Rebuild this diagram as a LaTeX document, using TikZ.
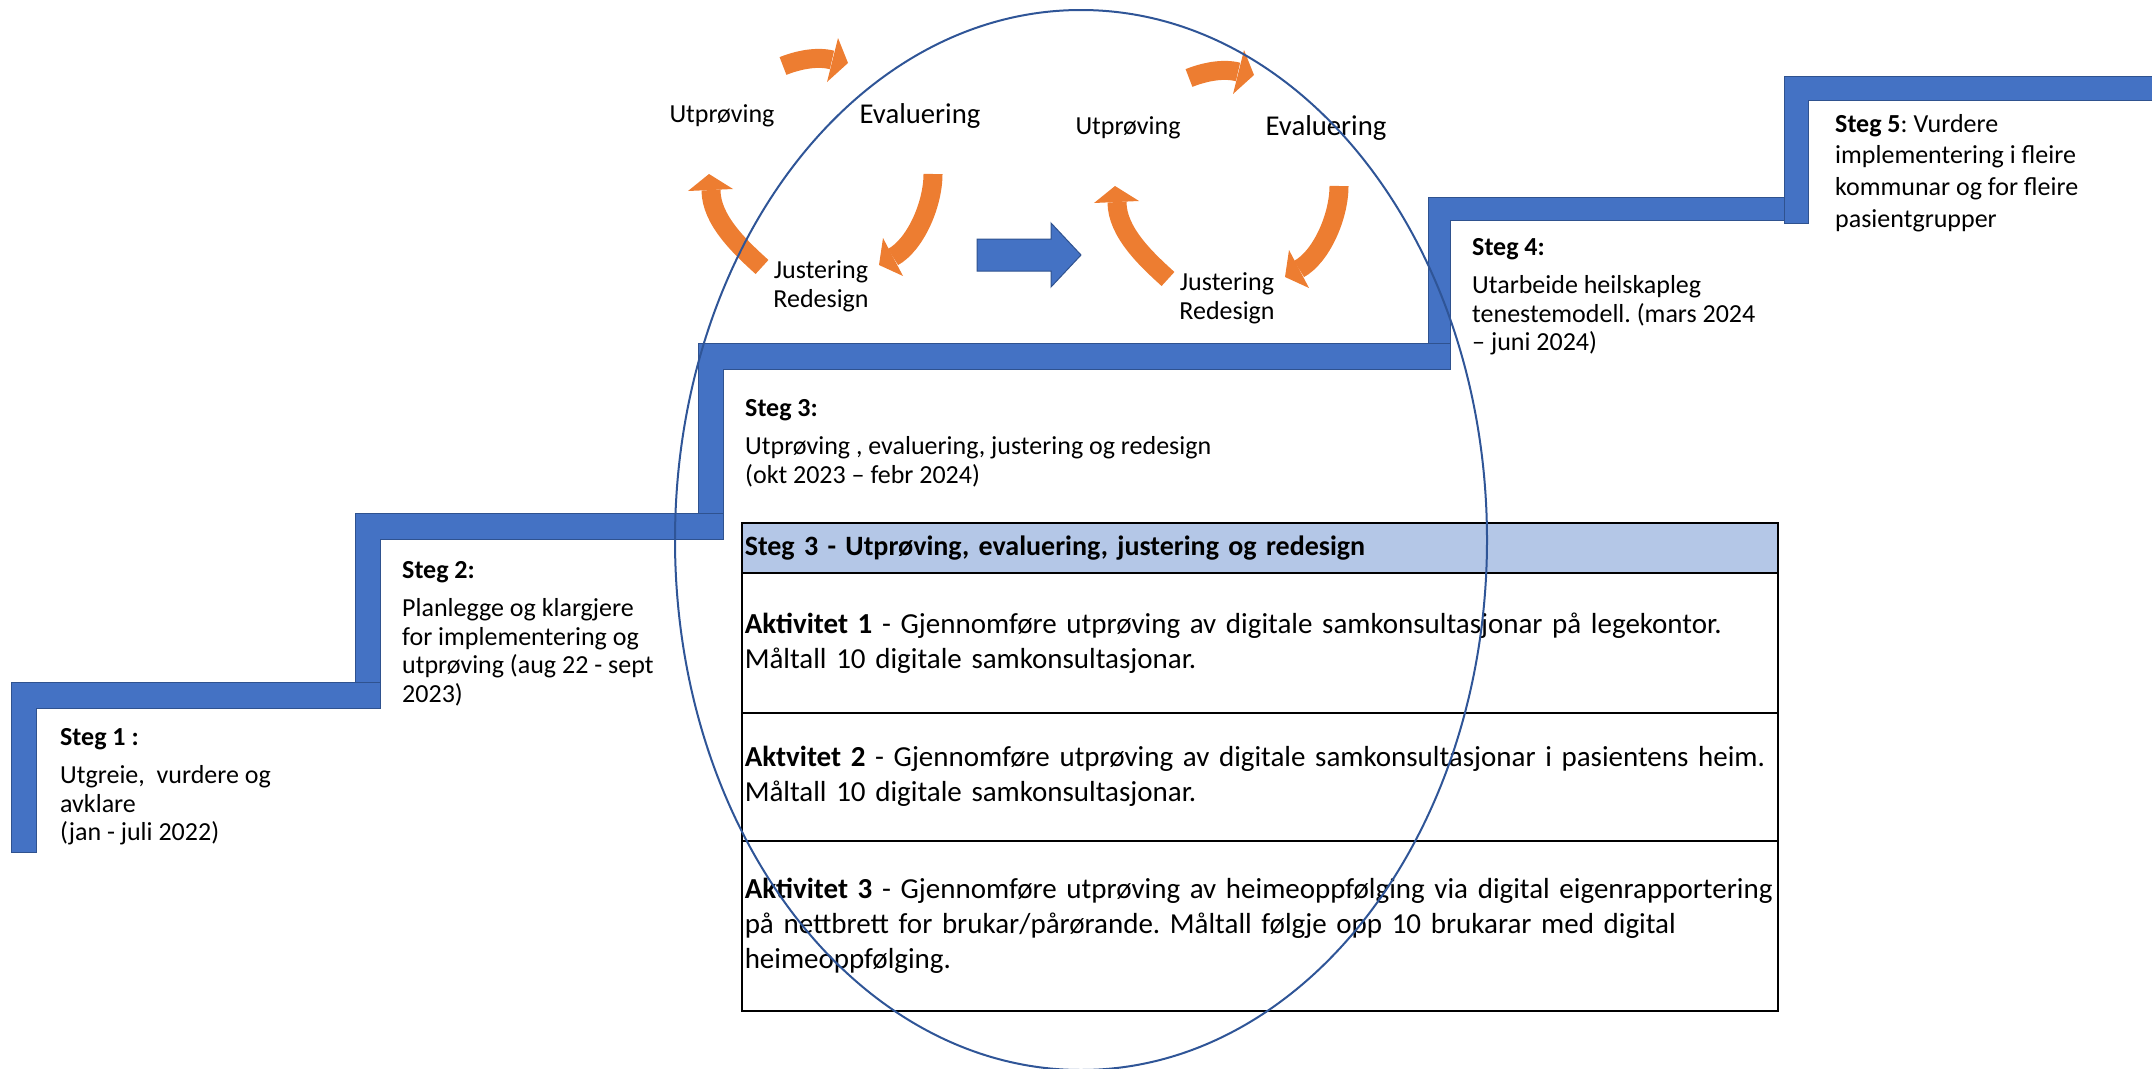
\documentclass[tikz,border=0pt]{standalone}
\usepackage{fontspec}
\setmainfont{Carlito}
\usetikzlibrary{shapes.geometric}
\definecolor{stairblue}{HTML}{4472C4}
\definecolor{stairline}{HTML}{2F528F}
\definecolor{arroworange}{HTML}{ED7D31}
\definecolor{loopblue}{HTML}{2F5597}
\definecolor{headfill}{HTML}{B4C7E7}
\frenchspacing
\tikzset{
  stair/.style={fill=stairblue,draw=stairline,line width=1pt},
  band/.style={draw=arroworange,line width=19pt,line cap=butt},
  arrowhead/.style={fill=arroworange},
  steptext/.style={anchor=base west,inner sep=0pt,font=\fontsize{26pt}{28.6pt}\selectfont},
  cyctext/.style={anchor=base,inner sep=0pt,font=\fontsize{26pt}{29pt}\selectfont},
  cell/.style={draw=black,line width=1.5pt,anchor=north west,inner xsep=3pt,inner ysep=0pt,
    text width=1030pt,align=left,font=\fontsize{29pt}{35pt}\selectfont},
  pdcacycle/.pic={
    \draw[band] (783,66) .. controls (798,60) and (817,56) .. (832,60);
    \fill[arrowhead] (838,38) -- (848,63) -- (827,82) -- cycle;
    \draw[band] (933,174) .. controls (933,205) and (915,245) .. (893,257);
    \fill[arrowhead] (883,238) -- (879,265) -- (903,276) -- cycle;
    \draw[band] (762,267) .. controls (740,247) and (711,220) .. (711,190);
    \fill[arrowhead] (688,191) -- (709,174) -- (733,189) -- cycle;
    \node[cyctext] (-u) at (722,122) {Utprøving};
    \node[cyctext,font=\fontsize{28.7pt}{32pt}\selectfont] (-e) at (920,123) {Evaluering};
    \node[cyctext] (-j) at (821,278) {Justering};
    \node[cyctext] (-r) at (821,307) {Redesign};
  }
}
\begin{document}
\begin{tikzpicture}[x=1pt,y=-1pt]
\useasboundingbox (0,0) rectangle (2152,1068);
\clip (0,0) rectangle (2152,1068);
% staircase
\draw[stair] (11,852) -- (11,682) -- (380,682) -- (380,708) -- (36,708) -- (36,852) -- cycle;
\draw[stair] (355,682) -- (355,513) -- (723,513) -- (723,539) -- (380,539) -- (380,682) -- cycle;
\draw[stair] (698,513) -- (698,343) -- (1450,343) -- (1450,369) -- (723,369) -- (723,513) -- cycle;
\draw[stair] (1428,343) -- (1428,197) -- (1784,197) -- (1784,220) -- (1450,220) -- (1450,343) -- cycle;
\draw[stair] (1784,223) -- (1784,76) -- (2160,76) -- (2160,100) -- (1808,100) -- (1808,223) -- cycle;
% step texts
\node[steptext] (s1) at (60,745) {\begin{tabular}[t]{@{}l@{}}\textbf{Steg 1 :}\\[10pt] Utgreie,\ \ vurdere og\\ avklare\\ (jan - juli 2022)\end{tabular}};
\node[steptext] (s2) at (402,578) {\begin{tabular}[t]{@{}l@{}}\textbf{Steg 2:}\\[10pt] Planlegge og klargjere\\ for implementering og\\ utprøving (aug 22 - sept\\ 2023)\end{tabular}};
\node[steptext] (s3) at (745,416) {\begin{tabular}[t]{@{}l@{}}\textbf{Steg 3:}\\[10pt] Utprøving , evaluering, justering og redesign\\ (okt 2023 – febr 2024)\end{tabular}};
\node[steptext] (s4) at (1472,255) {\begin{tabular}[t]{@{}l@{}}\textbf{Steg 4:}\\[10pt] Utarbeide heilskapleg\\ tenestemodell. (mars 2024\\ – juni 2024)\end{tabular}};
\node[steptext,font=\fontsize{26pt}{31.7pt}\selectfont] (s5) at (1835,132) {\begin{tabular}[t]{@{}l@{}}\textbf{Steg 5}: Vurdere\\ implementering i fleire\\ kommunar og for fleire\\ pasientgrupper\end{tabular}};
% cycles
\pic (c1) at (0,0) {pdcacycle};
\pic (c2) at (406,12) {pdcacycle};
% blue block arrow
\draw[stair] (977,239) -- (1051,239) -- (1051,223) -- (1081,255) -- (1051,287) -- (1051,271) -- (977,271) -- cycle;
% table
\node[cell,fill=headfill,minimum height=50pt,font=\fontsize{28pt}{34pt}\selectfont] (th) at (741,522) {\textbf{Steg 3 - Utprøving, evaluering, justering og redesign}};
\node[cell,minimum height=140pt] (r1) at (741,572) {\textbf{Aktivitet 1} - Gjennomføre utprøving av digitale samkonsultasjonar på legekontor.\\ Måltall 10 digitale samkonsultasjonar.};
\node[cell,minimum height=128pt] (r2) at (741,712) {\textbf{Aktvitet 2} - Gjennomføre utprøving av digitale samkonsultasjonar i pasientens heim.\\ Måltall 10 digitale samkonsultasjonar.};
\node[cell,minimum height=170pt] (r3) at (741,840) {\textbf{Aktivitet 3} - Gjennomføre utprøving av heimeoppfølging via digital eigenrapportering\\ på nettbrett for brukar/pårørande. Måltall følgje opp 10 brukarar med digital\\ heimeoppfølging.};
% ellipse
\node[draw=loopblue,line width=2pt,ellipse,minimum width=812pt,minimum height=1060pt,inner sep=0pt,outer sep=0pt] (loop) at (1081,540) {};
\end{tikzpicture}
\end{document}
